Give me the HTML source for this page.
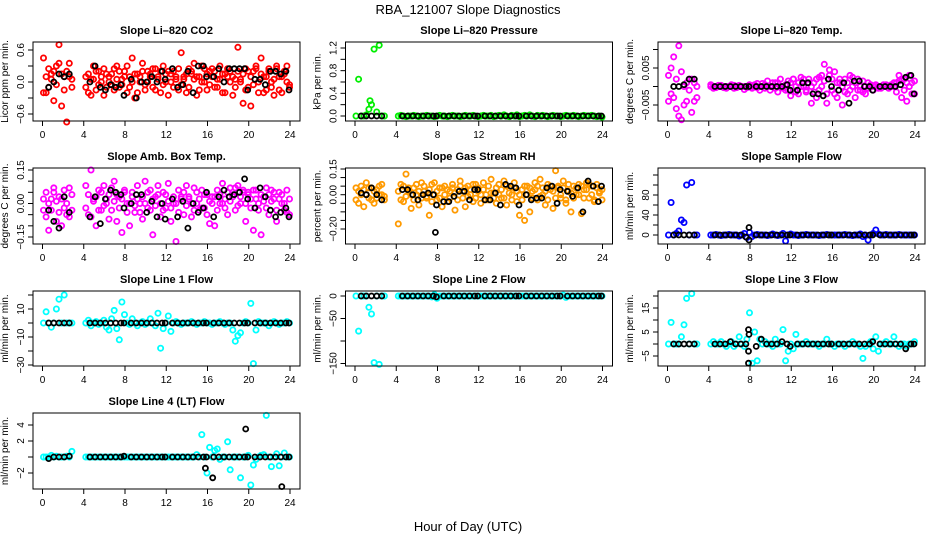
<!DOCTYPE html>
<html><head><meta charset="utf-8"><title>RBA_121007 Slope Diagnostics</title>
<style>
html,body{margin:0;padding:0;background:#fff;}
svg{display:block;font-family:"Liberation Sans",Arial,sans-serif;}
.tl{font-size:10px;fill:#000;}
.pt{font-size:11px;font-weight:bold;fill:#000;}
</style></head>
<body>
<svg id="chart" width="936" height="540" viewBox="0 0 936 540">
<rect x="0" y="0" width="936" height="540" fill="#fff"/>
<text x="468" y="14" text-anchor="middle" font-size="13">RBA_121007  Slope Diagnostics</text>
<text x="468" y="531" text-anchor="middle" font-size="13">Hour of Day (UTC)</text>
</svg>
<script>
const hours = [0.1,0.35,0.6,0.85,1.1,1.35,1.6,1.85,2.1,2.35,2.6,2.85,
4.2,4.45,4.7,4.95,5.2,5.45,5.7,5.95,6.2,6.45,6.7,6.95,7.2,7.45,7.7,7.95,8.2,8.45,8.7,8.95,
9.2,9.45,9.7,9.95,10.2,10.45,10.7,10.95,11.2,11.45,11.7,11.95,12.2,12.45,12.7,12.95,13.2,13.45,13.7,13.95,
14.2,14.45,14.7,14.95,15.2,15.45,15.7,15.95,16.2,16.45,16.7,16.95,17.2,17.45,17.7,17.95,18.2,18.45,18.7,18.95,
19.2,19.45,19.7,19.95,20.2,20.45,20.7,20.95,21.2,21.45,21.7,21.95,22.2,22.45,22.7,22.95,23.2,23.45,23.7,23.95];
const hoursK = [0.6,1.1,1.6,2.1,2.6,4.6,5.1,5.6,6.1,6.6,7.1,7.6,7.9,8.6,9.1,9.6,10.1,10.6,11.1,11.6,11.9,12.6,13.1,13.6,14.1,14.6,15.1,15.6,15.9,16.6,17.1,17.6,18.1,18.6,19.1,19.6,19.9,20.6,21.1,21.6,22.1,22.6,23.1,23.6,23.9];
const xTicks = [0,4,8,12,16,20,24];

// Panel 1: Li-820 CO2
const co2A = [0.45,-0.2,0.25,0.05,-0.35,0.3,0.7,-0.45,0.1,-0.75,0.35,0.05,
0.1,-0.2,0.05,0.3,-0.15,0.2,0.0,-0.25,0.15,0.1,-0.05,0.25,0.3,-0.1,0.05,0.2,-0.2,0.1,0.45,-0.3,
0.15,0.0,0.35,-0.15,0.2,0.1,-0.1,0.25,0.05,-0.2,0.3,0.15,-0.25,0.0,0.2,0.1,-0.15,0.55,0.05,-0.2,
0.25,0.15,0.35,-0.25,0.1,0.3,0.0,-0.15,0.2,0.25,-0.1,0.05,0.3,-0.2,0.15,0.1,0.2,-0.25,0.05,0.65,
0.0,-0.4,0.25,-0.1,-0.45,0.2,0.3,-0.2,0.45,0.1,-0.15,0.25,0.0,-0.25,0.3,0.1,-0.2,0.15,0.3,-0.1];
const co2B = [-0.2,0.1,-0.1,0.15,0.2,-0.05,0.35,0.15,-0.15,0.2,0.1,-0.1,
-0.1,0.15,-0.25,0.05,0.2,-0.05,0.1,0.25,-0.1,0.0,0.15,-0.15,0.05,0.2,-0.05,0.1,0.3,-0.1,0.0,0.15,
-0.2,0.1,0.2,-0.05,0.0,0.15,0.25,-0.15,0.1,0.2,-0.05,0.0,0.2,0.15,-0.1,0.05,0.25,-0.05,0.1,0.15,
-0.1,0.2,0.05,0.1,-0.15,0.0,0.25,0.15,-0.05,0.1,0.2,-0.1,0.05,0.15,-0.2,0.25,0.0,0.1,-0.1,0.2,
0.05,0.15,-0.15,0.2,0.1,-0.05,0.25,0.0,0.15,-0.2,0.1,0.2,-0.1,0.05,0.25,-0.15,0.1,0.2,0.0,-0.05];
const co2K = [-0.1,0.0,0.15,0.1,0.15,0.0,0.3,-0.1,-0.15,-0.05,-0.1,-0.05,-0.25,0.05,-0.3,0.0,0.0,0.1,0.0,0.2,0.05,0.25,-0.1,-0.05,0.2,-0.2,0.3,0.3,0.1,0.1,0.25,0.0,0.25,0.25,0.25,0.25,-0.15,0.05,0.05,-0.05,0.2,0.2,0.15,0.2,-0.15];

// Panel 2: Li-820 Pressure
const presA = [0,0.65,0,0,0.02,0.12,0.2,1.18,0.07,1.25,0,0,
0,0.01,0,-0.01,0,0,0.01,0,-0.01,0,0,0.01,0,0,-0.01,0,0.01,0,0,-0.01,
0,0.01,0,0,-0.01,0,0.01,0,0,0.01,0,-0.01,0,0.01,0,0,0.01,-0.01,0,0.01,
0,0.02,0,-0.01,0.01,0,0.02,-0.01,0,0.01,0,0.02,0,-0.01,0.01,0,0.01,0,-0.01,0,
0.01,0,0,-0.01,0,0.01,0,0,0.01,0,-0.01,0,0.01,0,0,0.01,0,-0.01,0,-0.02];
const presExtraX = [1.45];
const presExtraY = [0.27];
const presK = [0,0,0,0,0,0,0,0,0,0,0,0,0,0,0,0,0,0,0,0,0,0,0,0,0,0,0,0,0,0,0,0,0,0,0,0,0,0,0,0,0,0,0,0,0];

// Panel 3: Li-820 Temp
const tempA = [0.003,-0.002,0.008,-0.006,0.011,-0.009,0.0,-0.004,0.002,-0.007,0.001,-0.003,
0.0005,-0.0005,0.0,0.0,0.0003,-0.0003,0.0,0.0,0.0005,-0.0005,0.0,0.0003,0.0,-0.0008,0.0,0.0005,-0.0005,0.0,0.0008,-0.001,
0.0,0.0005,0.0015,-0.001,0.0,0.001,-0.0015,0.002,0.0,-0.001,0.0015,-0.0025,0.002,0.0,-0.002,0.0025,0.0,-0.001,0.002,-0.0045,
0.001,-0.003,0.0025,0.0,0.006,-0.0045,0.003,-0.001,0.004,-0.003,0.001,-0.005,0.002,-0.002,0.003,0.0,-0.003,0.002,-0.001,0.0015,
-0.002,0.001,0.0,-0.001,0.0005,0.0,-0.0005,0.0,0.0005,0.0,0.0005,0.0,0.001,0.003,-0.003,0.002,-0.004,0.003,0.001,-0.002];
const tempB = [-0.004,0.005,-0.003,0.002,-0.008,0.004,-0.005,0.001,-0.001,0.002,-0.004,0.0,
0.0,0.0,-0.0003,0.0003,0.0,0.0,-0.0005,0.0,0.0,0.0003,-0.0003,0.0,0.0,0.0,-0.0003,0.0,0.0,0.0005,-0.0003,0.0,
0.0008,-0.0005,0.0,0.0,0.001,-0.0005,0.001,0.0,-0.0005,0.0005,-0.001,0.001,0.002,-0.0015,0.001,0.0,0.002,-0.0015,0.001,0.0,
-0.0015,0.002,-0.001,0.003,0.0015,-0.002,0.0045,0.002,-0.002,0.001,0.002,0.0,-0.0015,0.001,-0.001,0.0025,0.001,-0.001,0.0,-0.0015,
0.0,-0.0005,0.0005,0.0,0.0,-0.0005,0.0,0.0005,0.0,-0.0005,0.0,0.001,-0.0015,0.0015,0.002,-0.001,0.001,0.0,-0.002,0.0015];
const tempK = [0.0,0.0,0.0005,0.002,0.002,0,0,0,0,0,0,0,0,0,0,0,0,0,0,0.0005,-0.001,-0.001,0.001,0.001,-0.002,-0.002,-0.0025,0.002,0.0,-0.001,0.001,-0.0045,0.0015,0.0015,0.0,0.0,-0.001,0.0,0.0,0.0,0.0,0.0005,0.0025,0.003,-0.002];

// Panel 4: Amb. Box Temp
const ambA = [-0.03,0.05,-0.12,0.02,0.07,-0.08,0.03,-0.1,0.06,-0.05,0.07,-0.03,
0.08,-0.05,0.15,0.02,-0.1,0.06,-0.03,0.08,0.0,-0.07,0.07,0.1,-0.08,0.03,-0.13,0.06,0.0,-0.1,0.05,-0.04,
0.08,0.0,-0.07,0.1,-0.02,0.06,-0.14,0.03,0.08,-0.06,0.05,-0.02,0.09,-0.08,0.0,-0.17,0.06,0.03,-0.05,0.08,
0.02,-0.06,0.07,0.0,-0.03,0.06,-0.02,0.04,-0.09,0.03,-0.1,0.06,0.0,0.09,0.02,-0.05,0.07,0.03,-0.03,0.08,
0.0,0.06,-0.08,0.05,0.02,-0.12,0.06,0.0,-0.14,0.03,0.07,-0.05,0.06,0.02,-0.08,0.05,0.0,-0.03,0.06,-0.05];
const ambB = [0.02,-0.06,0.0,-0.03,0.05,0.01,-0.04,0.02,-0.02,0.0,-0.06,0.04,
-0.02,0.04,-0.06,0.01,0.03,-0.03,0.05,-0.01,0.02,0.04,-0.03,0.01,0.04,-0.02,0.02,0.05,-0.04,0.0,0.03,-0.01,
0.02,-0.04,0.03,0.0,0.05,-0.03,0.02,-0.01,0.04,0.0,-0.03,0.04,0.01,-0.02,0.03,0.0,-0.04,0.02,0.05,-0.01,
0.03,0.0,-0.03,0.05,0.02,-0.02,0.04,-0.05,0.01,0.0,0.03,-0.03,0.04,0.0,-0.02,0.05,0.01,0.04,0.07,-0.01,
0.03,0.05,0.0,0.04,-0.02,0.06,0.02,-0.03,0.04,0.01,-0.02,0.04,0.01,0.05,-0.03,0.02,0.04,0.0,-0.04,0.02];
const ambK = [-0.03,-0.08,-0.11,0.03,-0.04,-0.06,0.03,-0.09,0.02,0.06,0.05,0.04,-0.02,0.0,0.04,0.04,-0.04,0.01,-0.06,0.0,-0.07,0.02,-0.06,0.01,-0.11,0.0,-0.04,-0.02,0.05,-0.06,0.03,0.06,0.03,0.04,0.05,0.11,0.02,-0.02,0.07,0.03,-0.03,-0.06,-0.04,-0.02,-0.06];

// Panel 5: Gas Stream RH
const rhA = [-0.03,0.02,0.05,-0.07,0.0,0.04,-0.03,0.02,-0.02,0.05,0.0,-0.03,
-0.17,0.06,-0.04,0.12,0.02,-0.08,0.04,0.0,-0.06,0.07,0.02,-0.02,-0.12,0.06,0.0,-0.03,0.04,-0.07,0.05,-0.04,
0.02,0.06,-0.09,0.03,0.08,-0.02,-0.07,0.05,0.0,-0.04,0.06,0.02,-0.05,0.07,0.0,-0.03,0.09,0.01,-0.05,0.06,
-0.02,0.08,-0.06,0.04,0.0,0.07,-0.04,-0.12,0.03,-0.15,0.05,-0.1,0.02,0.07,-0.03,0.09,0.0,-0.06,0.06,0.03,
-0.08,0.14,0.04,-0.02,0.08,-0.05,0.02,-0.1,0.05,0.0,0.06,-0.11,0.03,0.07,-0.02,0.05,-0.04,0.06,0.02,-0.03];
const rhB = [0.04,-0.05,0.0,0.03,0.07,-0.02,0.04,-0.05,0.03,0.0,0.06,-0.01,
0.02,-0.03,0.05,-0.01,0.04,0.0,-0.03,0.06,0.02,-0.02,0.05,-0.01,0.03,-0.04,0.07,0.02,-0.02,0.04,0.0,0.03,
-0.02,0.04,0.01,-0.03,0.05,0.02,0.04,-0.01,0.03,0.06,-0.02,0.04,0.0,0.03,-0.03,0.05,0.01,-0.02,0.04,0.0,
0.03,-0.02,0.05,0.01,-0.03,0.04,0.02,0.0,-0.03,0.05,0.0,0.04,-0.02,0.03,0.05,-0.01,0.04,0.02,-0.03,0.05,
0.02,-0.02,0.05,0.0,0.04,-0.03,0.06,0.01,-0.02,0.04,0.0,0.05,-0.02,0.03,0.06,0.0,-0.03,0.04,0.01,0.03];
const rhK = [0.01,0.0,0.04,0.0,-0.03,0.03,0.03,0.0,-0.03,0.0,0.01,0.0,-0.06,-0.04,-0.04,-0.01,0.02,0.02,-0.03,0.03,0.03,-0.03,-0.03,0.01,-0.06,0.06,0.05,0.04,-0.06,0.0,-0.03,-0.02,-0.02,0.04,0.05,-0.05,0.03,0.02,-0.01,0.04,-0.1,0.08,0.05,-0.04,0.05];
const rhKExtraX = [7.8];
const rhKExtraY = [-0.22];

// Panel 6: Sample Flow
const sfA = [0,65,0,3,8,30,25,100,0,105,0,0,
0,0,1,0,-1,0,0,1,0,0,0,-2,0,3,-5,5,-3,0,1,0,
0,0,-1,0,2,0,-1,0,3,-12,0,2,0,0,-1,0,0,1,0,0,
0,0,-1,0,0,1,0,0,0,0,0,0,1,0,0,-1,0,0,2,-3,
0,-10,0,3,10,2,0,0,1,0,0,0,0,1,0,0,0,0,0,0];
const sfK = [0,0,0,0,0,0,0,0,0,0,0,-4,15,0,0,0,0,0,0,0,0,0,0,0,0,0,0,0,0,0,0,0,0,0,0,0,0,0,0,0,0,0,0,0,0];
const sfKExtraX = [7.9];
const sfKExtraY = [-10];

// Panel 7: Line 1 Flow
const l1A = [0,8,0,-3,0,10,17,0,20,0,0,0,
0,2,-2,0,1,-1,0,2,-3,-5,3,9,-4,-12,15,6,0,-1,3,0,
-2,0,1,-1,0,3,0,-2,7,-18,-4,0,5,-6,0,1,0,-1,0,0,
0,1,0,-1,0,0,1,0,0,-1,0,0,1,0,-1,0,0,-5,-13,-9,
-7,0,1,0,14,-29,-5,1,0,0,0,-2,0,1,0,-1,0,0,1,0];
const l1K = [0,0,0,0,0,0,0,0,0,0,0,0,0,0,0,0,0,0,0,0,0,0,0,0,0,0,0,0,0,0,0,0,0,0,0,0,0,0,0,0,0,0,0,0,0];

// Panel 8: Line 2 Flow
const l2A = [0,-78,0,0,0,-25,-40,-148,0,-152,0,0,
0,0,0,0,0,0,0,0,0,0,0,0,0,-2,3,-5,0,0,0,0,
0,0,0,0,0,0,0,0,0,0,0,0,0,0,0,0,0,0,0,0,
0,0,0,0,0,0,0,0,0,0,0,0,0,0,0,0,0,0,0,0,
0,0,0,0,2,-3,0,0,0,0,0,0,0,0,0,0,0,0,0,0];
const l2K = [0,0,0,0,0,0,0,0,0,0,0,0,-2,0,0,0,0,0,0,0,0,0,0,0,0,0,0,0,0,0,0,0,0,0,0,0,0,0,0,0,0,0,0,0,0];

// Panel 9: Line 3 Flow
const l3A = [0,9,0,0,0,3,8,19,0,21,0,0,
0,1,0,0,1,0,-1,0,1,-1,0,3,0,-1,2,13,-8,5,-7,2,
0,1,0,0,-1,2,0,0,6,-7,-3,0,-2,4,0,0,0,1,0,0,
0,0,-1,0,0,2,0,0,-1,0,0,0,-1,0,0,1,0,0,-1,-6,
-1,0,1,-2,3,-3,0,0,1,0,0,3,0,-1,0,0,-1,0,0,1];
const l3K = [0,0,0,0,0,0,0,0,1,0,0,0,4,-1,2,0,0,0,1,0,-1,0,0,0,0,0,0,0,0,0,0,0,0,0,0,0,1,0,0,0,0,0,-2,0,0];
const l3KExtraX = [7.85,7.85,7.85];
const l3KExtraY = [6,-3,-8];

// Panel 10: Line 4 (LT) Flow
const l4A = [0,0,0,0.2,0,0.1,0,0,0,0.1,0,0.7,
0,0,0,0,0,0,0,0,0,0,0,0,0,0,0,0,0,0,0,0,
0,0,0,0,0,0,0,0,0,0,0,0,0,0,0,0,0,0,0,0,
0,0,0,0.3,0,2.8,0,-2,1.2,0,0.8,1.0,-0.3,0,0,1.9,-1.6,0,0,0,
-2.6,0,0,0.2,-3.5,-1.0,-0.3,0,0.2,0.3,5.2,0,-1.2,0,0.4,-1.1,0,0.5,0,0];
const l4K = [-0.2,0,0,0,0.1,0,0,0,0,0,0,0,0.1,0,0,0,0,0,0,0,0,0,0,0,0,0,0,0,0,0,0,0,0,0,0,0,0,0,0,0,0,0,0,0,0];
const l4KExtraX = [15.8,16.5,19.7,23.2];
const l4KExtraY = [-1.4,-2.6,3.5,-3.7];

const NS = 'http://www.w3.org/2000/svg';
const svg = document.getElementById('chart');
const rowTop = [42,168,291,413], rowBot = [121,244,366,489];

const panels = [
 {name:'co2', title:'Slope Li\u2013820 CO2', ylab:'Licor ppm per min.', row:0,col:0, color:'#ff0000', series:[co2A,co2B], k:co2K, ref:[0.6,50,-0.6,114], ticks:[-0.6,-0.3,0,0.3,0.6], tl:['\u22120.6','','0.0','','0.6']},
 {name:'pressure', title:'Slope Li\u2013820 Pressure', ylab:'kPa per min.', row:0,col:1, color:'#00ee00', series:[presA], k:presK, ref:[0,116,1.2,48], ticks:[0,0.2,0.4,0.6,0.8,1.0,1.2], tl:['0.0','','0.4','','0.8','','1.2'], ex:[presExtraX,presExtraY]},
 {name:'li820-temp', title:'Slope Li\u2013820 Temp.', ylab:'degrees C per min.', row:0,col:2, color:'#ff00ff', series:[tempA,tempB], k:tempK, ref:[0.005,68,-0.005,105], ticks:[-0.005,0,0.005,0.01], tl:['\u22120.005','','0.005','']},
 {name:'amb-box-temp', title:'Slope Amb. Box Temp.', ylab:'degrees C per min.', row:1,col:0, color:'#ff00ff', series:[ambA,ambB], k:ambK, ref:[0.15,170,-0.15,237], ticks:[-0.15,-0.1,-0.05,0,0.05,0.1,0.15], tl:['\u22120.15','','','0.00','','','0.15']},
 {name:'gas-stream-rh', title:'Slope Gas Stream RH', ylab:'percent per min.', row:1,col:1, color:'#ff9a00', series:[rhA,rhB], k:rhK, ref:[0.15,169,-0.2,229], ticks:[-0.2,-0.15,-0.1,-0.05,0,0.05,0.1,0.15], tl:['\u22120.20','','','','0.00','','','0.15'], kex:[rhKExtraX,rhKExtraY]},
 {name:'sample-flow', title:'Slope Sample Flow', ylab:'ml/min per min.', row:1,col:2, color:'#0000ff', series:[sfA], k:sfK, ref:[0,235,80,195], ticks:[0,20,40,60,80,100,120], tl:['0','','40','','80','',''], kex:[sfKExtraX,sfKExtraY]},
 {name:'line1-flow', title:'Slope Line 1 Flow', ylab:'ml/min per min.', row:2,col:0, color:'#00ffff', series:[l1A], k:l1K, ref:[10,309,-30,365], ticks:[-30,-20,-10,0,10,20], tl:['\u221230','','\u221210','','10','']},
 {name:'line2-flow', title:'Slope Line 2 Flow', ylab:'ml/min per min.', row:2,col:1, color:'#00ffff', series:[l2A], k:l2K, ref:[0,296,-150,363.5], ticks:[-150,-100,-50,0], tl:['\u2212150','','\u221250','0']},
 {name:'line3-flow', title:'Slope Line 3 Flow', ylab:'ml/min per min.', row:2,col:2, color:'#00ffff', series:[l3A], k:l3K, ref:[15,308,-5,356], ticks:[-5,0,5,10,15,20], tl:['\u22125','','5','','15',''], kex:[l3KExtraX,l3KExtraY]},
 {name:'line4-flow', title:'Slope Line 4 (LT) Flow', ylab:'ml/min per min.', row:3,col:0, color:'#00ffff', series:[l4A], k:l4K, ref:[4,425,-2,473], ticks:[-2,0,2,4], tl:['\u22122','','2','4'], kex:[l4KExtraX,l4KExtraY]}
];

function mk(tag, attrs, parent){
  const e = document.createElementNS(NS, tag);
  for (const k in attrs) e.setAttribute(k, attrs[k]);
  (parent||svg).appendChild(e);
  return e;
}

panels.forEach(p => {
  const left = 33 + 312.5*p.col, right = left + 267;
  const top = rowTop[p.row], bot = rowBot[p.row];
  const xs = h => left + 9.5 + h/24*247.5;
  const [v1,p1,v2,p2] = p.ref;
  const ys = v => p1 + (v - v1)*(p2 - p1)/(v2 - v1);
  const g = mk('g', {});
  
  

  const t = mk('text', {x:(left+right)/2, y:top-8, 'text-anchor':'middle', class:'pt'}, g);
  t.textContent = p.title;
  
  

  const yl = mk('text', {x:0, y:0, 'text-anchor':'middle', class:'tl', transform:`translate(${left-25},${(top+bot)/2}) rotate(-90)`}, g);
  yl.textContent = p.ylab;
  
  

  const pg = mk('g', {fill:'none', 'stroke-width':'1.8'}, g);
  
  
  p.series.forEach(arr => {
    arr.forEach((v, i) => {
      if (hours[i] === undefined) return;
      const c = mk('circle', {cx:xs(hours[i]).toFixed(1), cy:ys(v).toFixed(1), r:2.6, stroke:p.color}, pg);
      
      
    });
  });
  if (p.ex) p.ex[0].forEach((h, i) => {
    const c = mk('circle', {cx:xs(h).toFixed(1), cy:ys(p.ex[1][i]).toFixed(1), r:2.6, stroke:p.color}, pg);
    
    
  });
  p.k.forEach((v, i) => {
    if (hoursK[i] === undefined) return;
    const c = mk('circle', {cx:xs(hoursK[i]).toFixed(1), cy:ys(v).toFixed(1), r:2.5, stroke:'#000'}, pg);
    
    
  });
  if (p.kex) p.kex[0].forEach((h, i) => {
    const c = mk('circle', {cx:xs(h).toFixed(1), cy:ys(p.kex[1][i]).toFixed(1), r:2.5, stroke:'#000'}, pg);
    
    
  });

  const b = mk('rect', {x:left, y:top, width:right-left, height:bot-top, fill:'none', stroke:'#000', 'stroke-width':'1'}, g);
  
  

  const xa = mk('g', {}, g);
  
  
  xTicks.forEach(h => {
    mk('line', {x1:xs(h), x2:xs(h), y1:bot, y2:bot+5, stroke:'#000'}, xa);
    const tx = mk('text', {x:xs(h), y:bot+17, 'text-anchor':'middle', class:'tl'}, xa);
    tx.textContent = h;
    
    
  });

  const ya = mk('g', {}, g);
  
  
  p.ticks.forEach((v, i) => {
    const y = ys(v);
    if (y < top - 1 || y > bot + 1) return;
    mk('line', {x1:left-5, x2:left, y1:y, y2:y, stroke:'#000'}, ya);
    if (p.tl[i]) {
      const tx = mk('text', {x:0, y:0, 'text-anchor':'middle', class:'tl', transform:`translate(${left-9},${y}) rotate(-90)`}, ya);
      tx.textContent = p.tl[i];
      
      
    }
  });
});
</script>
</body></html>
